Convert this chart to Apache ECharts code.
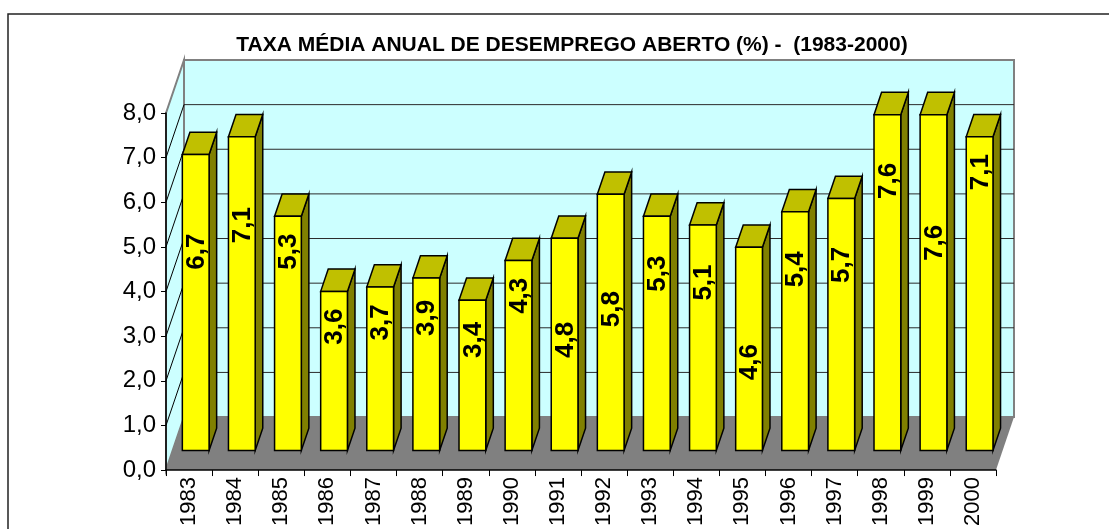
<!DOCTYPE html>
<html><head><meta charset="utf-8">
<script src="https://cdn.jsdelivr.net/npm/echarts@6/dist/echarts.min.js"></script>
<style>html,body{margin:0;padding:0;background:#fff}#c{width:1109px;height:529px}</style>
</head><body><div id="c"></div>
<script>
const years = ['1983','1984','1985','1986','1987','1988','1989','1990','1991','1992','1993','1994','1995','1996','1997','1998','1999','2000'];
const rates = [6.7, 7.1, 5.3, 3.6, 3.7, 3.9, 3.4, 4.3, 4.8, 5.8, 5.3, 5.1, 4.6, 5.4, 5.7, 7.6, 7.6, 7.1];
// where along each bar (in axis units) its value label sits
const labelAt = [4.5, 5.1, 4.5, 2.8, 2.9, 3.0, 2.5, 3.5, 2.5, 3.2, 4.0, 3.8, 2.0, 4.1, 4.2, 6.1, 4.7, 6.3];
const yTicks = [0, 1, 2, 3, 4, 5, 6, 7, 8];
const titleText = 'TAXA MÉDIA ANUAL DE DESEMPREGO ABERTO (%) -  (1983-2000)';

const fmt = v => v.toFixed(1).replace('.', ',');
const FONT = "'Liberation Sans', Arial, sans-serif";
// oblique depth of the plot box (pixels) and bar depth slice
const DX = 18, DY = -53, F1 = 0.37, F2 = 0.79, K = 0.99;

function renderWalls(params, api) {
  const cs = params.coordSys;
  const x0 = cs.x, x1 = cs.x + cs.width;
  const yv = v => api.coord([0, v])[1];
  const yMin = yv(yTicks[0]), yMax = yv(yTicks[yTicks.length - 1]);
  const ch = [];
  ch.push({type: 'polygon', shape: {points: [[x0 + DX, yMax + DY], [x1 + DX, yMax + DY], [x1 + DX, yMin + DY], [x0 + DX, yMin + DY]]},
    style: {fill: '#CCFFFF', stroke: '#808080', lineWidth: 2}});
  ch.push({type: 'polygon', shape: {points: [[x0, yMax], [x0 + DX, yMax + DY], [x0 + DX, yMin + DY], [x0, yMin]]},
    style: {fill: '#CCFFFF', stroke: '#808080', lineWidth: 2}});
  yTicks.slice(1, -1).forEach(v => {
    const y = yv(v);
    ch.push({type: 'line', shape: {x1: x0 + DX, y1: y + DY, x2: x1 + DX, y2: y + DY}, style: {stroke: '#2b2b2b', lineWidth: 1}});
    ch.push({type: 'line', shape: {x1: x0, y1: y, x2: x0 + DX, y2: y + DY}, style: {stroke: '#000', lineWidth: 1}});
  });
  ch.push({type: 'polygon', shape: {points: [[x0, yMin], [x1, yMin], [x1 + DX, yMin + DY], [x0 + DX, yMin + DY]]},
    style: {fill: '#808080'}});
  return {type: 'group', children: ch};
}

function renderBar(params, api) {
  const i = api.value(0), v = api.value(1), lp = api.value(2);
  const top = api.coord([i, v]), base = api.coord([i, 0]), lab = api.coord([i, lp]);
  const band = api.size([1, 0])[0];
  const hw = band * 0.29;
  const cx = base[0] + DX * F1;
  const yb = base[1] + DY * F1;
  const yt = base[1] + (top[1] - base[1]) * K + DY * F1;
  const yl = base[1] + (lab[1] - base[1]) * K + DY * F1;
  const bx = DX * (F2 - F1), by = DY * (F2 - F1);
  const L = cx - hw, R = cx + hw;
  const st = {stroke: '#000', lineWidth: 1.5, lineJoin: 'miter'};
  return {type: 'group', children: [
    {type: 'polygon', shape: {points: [[R, yt], [R + bx, yt + by], [R + bx, yb + by], [R, yb]]}, style: Object.assign({fill: '#808000'}, st)},
    {type: 'polygon', shape: {points: [[L, yt], [L + bx, yt + by], [R + bx, yt + by], [R, yt]]}, style: Object.assign({fill: '#C0C000'}, st)},
    {type: 'rect', shape: {x: L, y: yt, width: R - L, height: yb - yt}, style: Object.assign({fill: '#FFFF00'}, st)},
    {type: 'text', x: cx + 1, y: yl, rotation: Math.PI / 2,
      style: {text: fmt(v), fill: '#000', font: 'bold 26px ' + FONT, align: 'center', verticalAlign: 'middle'}}
  ]};
}

const chart = echarts.init(document.getElementById('c'), null, {renderer: 'canvas'});
chart.setOption({
  backgroundColor: '#fff',
  animation: false,
  title: {text: titleText, left: 567, top: 30, textAlign: 'center',
    textStyle: {fontFamily: FONT, fontWeight: 'bold', fontSize: 21, color: '#000'}},
  graphic: [{type: 'rect', z: -10, shape: {x: 8, y: 14, width: 1200, height: 600},
    style: {fill: 'none', stroke: '#222', lineWidth: 1.5}}],
  grid: {left: 166, right: 113, top: 113, bottom: 57, containLabel: false},
  xAxis: {type: 'category', data: years, boundaryGap: true,
    axisLine: {lineStyle: {color: '#000', width: 1.5}},
    axisTick: {show: true, length: 6, lineStyle: {color: '#000'}},
    axisLabel: {rotate: 90, margin: 7, color: '#000', fontSize: 22, fontFamily: FONT},
    splitLine: {show: false}},
  yAxis: {type: 'value', min: 0, max: 8, interval: 1,
    axisLine: {show: true, lineStyle: {color: '#000', width: 1.5}},
    axisTick: {show: true, length: 5, lineStyle: {color: '#000'}},
    axisLabel: {margin: 10, color: '#000', fontSize: 24, fontFamily: FONT, formatter: v => fmt(v)},
    splitLine: {show: false}},
  series: [
    {type: 'custom', z: -1, renderItem: renderWalls, data: [[0, 0]], silent: true, clip: false},
    {type: 'custom', z: 5, renderItem: renderBar, encode: {x: 0, y: 1}, clip: false,
      data: years.map((y, i) => [i, rates[i], labelAt[i]])}
  ]
});
</script></body></html>
